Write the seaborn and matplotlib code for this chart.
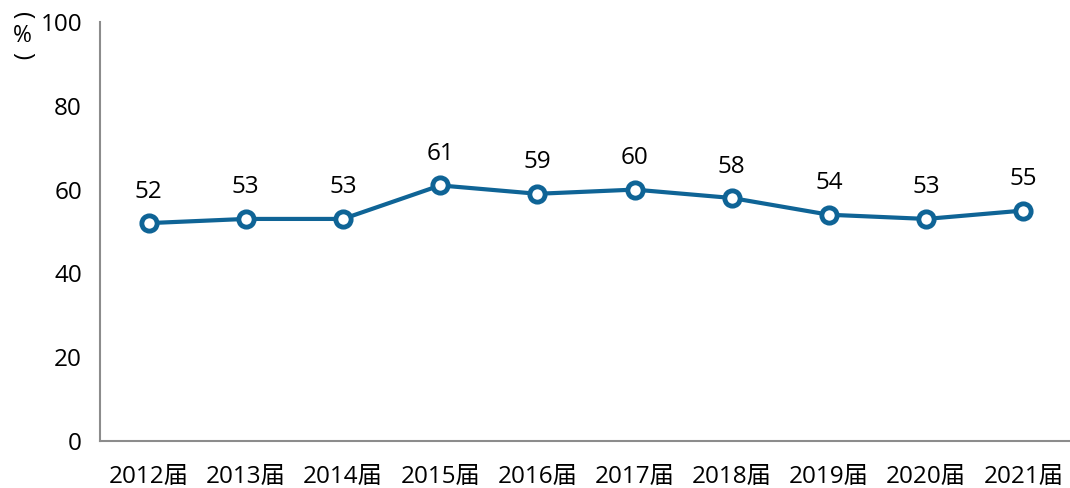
import numpy as np
import pandas as pd
import seaborn as sns
import matplotlib.pyplot as plt

sns.set_theme(style="white")
plt.rcParams['font.family'] = ['Open Sans', 'Noto Sans CJK SC', 'DejaVu Sans']

# data
years = ['2012届', '2013届', '2014届', '2015届', '2016届', '2017届', '2018届', '2019届', '2020届', '2021届']
values = [52, 53, 53, 61, 59, 60, 58, 54, 53, 55]
y_ticks = [0, 20, 40, 60, 80, 100]

line_color = '#0f6496'
axis_color = '#8c8c8c'
fs = 17.5

df = pd.DataFrame({'year': years, 'value': values})
df['pos'] = np.arange(len(df))

fig = plt.figure(figsize=(10.7, 4.88), dpi=100)
ax = fig.add_axes([100 / 1070, 47 / 488, 972 / 1070, 419 / 488])

sns.lineplot(data=df, x='pos', y='value', ax=ax, color=line_color, linewidth=3,
             marker='o', markersize=11, markerfacecolor='white',
             markeredgecolor=line_color, markeredgewidth=3.5, clip_on=False)

for x, v in zip(df['pos'], df['value']):
    ax.annotate(f'{v}', (x, v), xytext=(0, 14), textcoords='offset points',
                ha='center', va='bottom', fontsize=fs, color='black')

ax.set_xlim(-0.5, len(years) - 0.5)
ax.set_ylim(0, 100)
ax.set_yticks(y_ticks)
ax.set_yticklabels([str(t) for t in y_ticks], fontsize=fs, color='black')

# category labels centered, ticks at boundaries
ax.set_xticks(np.arange(len(years) - 1) + 0.5)
ax.set_xticklabels([])
ax.set_xticks(df['pos'], minor=True)
ax.set_xticklabels(years, minor=True, fontsize=fs, color='black')
ax.tick_params(axis='x', which='major', direction='in', length=8, width=1.5, color=axis_color)
ax.tick_params(axis='x', which='minor', length=0, pad=17)
ax.tick_params(axis='y', direction='in', length=8, width=1.5, color=axis_color, pad=13)

ax.set_xlabel('')
ax.set_ylabel('')
for side in ['top', 'right']:
    ax.spines[side].set_visible(False)
for side in ['left', 'bottom']:
    ax.spines[side].set_color(axis_color)
    ax.spines[side].set_linewidth(1.5)

# vertical unit label
ux = 22 / 1070
fig.text(ux, 1 - 16 / 488, '(', ha='center', va='center', rotation=270,
         rotation_mode='anchor', fontsize=fs, color='black')
fig.text(ux, 1 - 36 / 488, '%', ha='center', va='center', fontsize=fs - 1, color='black')
fig.text(ux, 1 - 56 / 488, ')', ha='center', va='center', rotation=270,
         rotation_mode='anchor', fontsize=fs, color='black')

fig.savefig('out.png', dpi=100)
